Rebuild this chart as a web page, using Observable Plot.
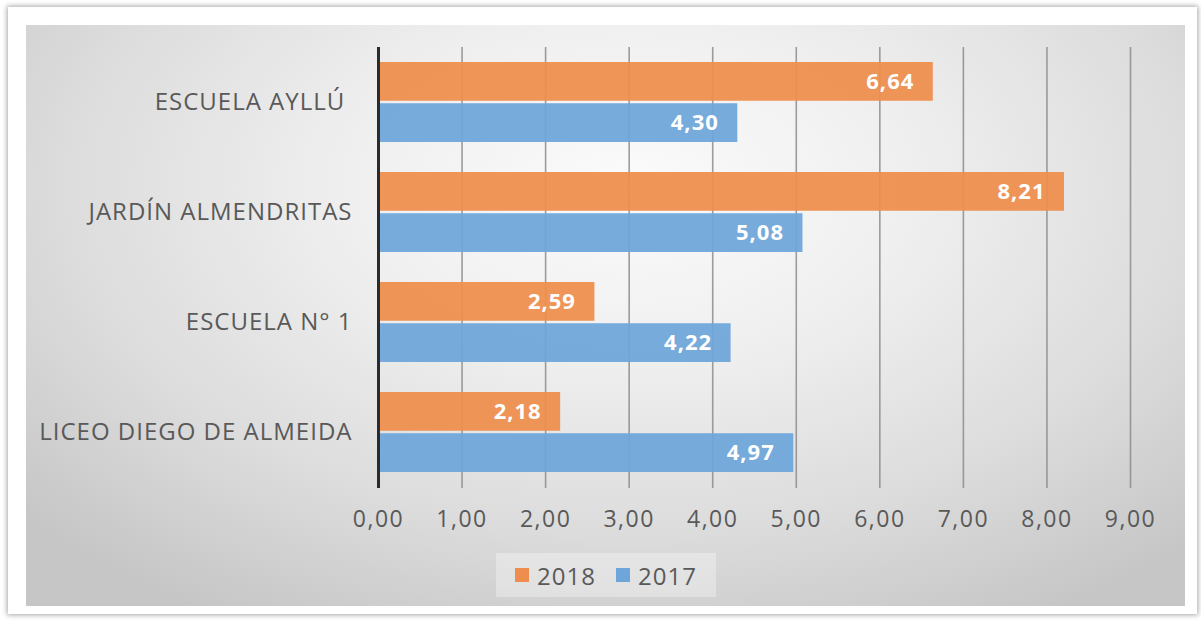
<!DOCTYPE html>
<html>
<head>
<meta charset="utf-8">
<script src="https://cdn.jsdelivr.net/npm/d3@7"></script>
<script src="https://cdn.jsdelivr.net/npm/@observablehq/plot@0.6"></script>
<style>
  html, body { margin: 0; padding: 0; background: #fff; width: 1201px; height: 621px; overflow: hidden; }
  #frame { position: absolute; left: 8px; top: 7px; width: 1189px; height: 607px; background: #fff;
           box-shadow: 0 0 5px 1px rgba(0,0,0,0.35); }
  #panel { position: absolute; left: 26px; top: 25px; width: 1159px; height: 581px;
           background: radial-gradient(ellipse 70% 85% at 52% 28%, #fbfbfb 0%, #efefef 35%, #dcdcdc 70%, #c6c6c6 100%); }
  #chart { position: absolute; left: 0; top: 0; }
  #chart svg text { white-space: pre; }
  #chart .ylab text { letter-spacing: 1px; }
  #chart .xlab text { letter-spacing: 1.5px; }
  #chart .vlab text { letter-spacing: 1px; }
  #legend { position: absolute; left: 496px; top: 553px; width: 220px; height: 44px;
            background: rgba(255,255,255,0.32); display: flex; align-items: center; justify-content: center;
            font-family: "Open Sans", sans-serif; font-size: 24px; letter-spacing: 1px; color: #595959; }
  .sw { display: inline-block; width: 14px; height: 14px; margin-right: 8px; }
  .item { display: flex; align-items: center; margin: 0 10px; }
</style>
</head>
<body>
<div id="frame"></div>
<div id="panel"></div>
<div id="chart"></div>
<div id="legend"></div>
<script>
const categories = ["ESCUELA AYLLÚ ", "JARDÍN ALMENDRITAS", "ESCUELA N° 1", "LICEO DIEGO DE ALMEIDA"];
const years = ["2018", "2017"];
const values2018 = [6.64, 8.21, 2.59, 2.18];
const values2017 = [4.30, 5.08, 4.22, 4.97];
const xTicks = [0, 1, 2, 3, 4, 5, 6, 7, 8, 9];
const colors = {"2018": "#ee8e4e", "2017": "#6fa6da"};

const fmt = v => d3.format(".2f")(v).replace(".", ",");

const rows2018 = categories.map((c, i) => ({cat: c, year: "2018", value: values2018[i]}));
const rows2017 = categories.map((c, i) => ({cat: c, year: "2017", value: values2017[i]}));

const W = 1201, H = 545;
const mTop = 47, mBottom = 57, mLeft = 378, mRight = 71;
const padIn = 0.27;
const step = (H - mTop - mBottom) / categories.length;
const bw = step * (1 - padIn);
const half = bw / 2;

const chart = Plot.plot({
  width: W,
  height: H,
  marginTop: mTop,
  marginBottom: mBottom,
  marginLeft: mLeft,
  marginRight: mRight,
  style: {background: "transparent", fontFamily: "'Open Sans', sans-serif", color: "#595959"},
  x: {domain: [0, 9], label: null},
  y: {domain: categories, paddingInner: padIn, paddingOuter: padIn / 2, label: null},
  marks: [
    Plot.gridX(xTicks, {stroke: "#8c8c8c", strokeOpacity: 0.85, strokeWidth: 1.6}),
    Plot.barX(rows2018, {x: "value", y: "cat", fill: colors["2018"], fillOpacity: 0.94, insetBottom: half + 1}),
    Plot.barX(rows2017, {x: "value", y: "cat", fill: colors["2017"], fillOpacity: 0.94, insetTop: half + 1}),
    Plot.text(rows2018, {x: "value", y: "cat", text: d => fmt(d.value), textAnchor: "end", dx: -19, dy: -half / 2 - 0.5,
      fill: "white", fontWeight: "bold", fontSize: 22, className: "vlab"}),
    Plot.text(rows2017, {x: "value", y: "cat", text: d => fmt(d.value), textAnchor: "end", dx: -19, dy: half / 2 + 0.5,
      fill: "white", fontWeight: "bold", fontSize: 22, className: "vlab"}),
    Plot.ruleX([0], {stroke: "#2b2b2b", strokeWidth: 3}),
    Plot.axisX(xTicks, {tickFormat: fmt, tickSize: 0, tickPadding: 22, fontSize: 23, fill: "#595959", label: null, className: "xlab"}),
    Plot.axisY({tickSize: 0, tickPadding: 26, fontSize: 24, fill: "#595959", label: null, className: "ylab"})
  ]
});
document.getElementById("chart").appendChild(chart);

const legend = document.getElementById("legend");
years.forEach(y => {
  const item = document.createElement("div");
  item.className = "item";
  const sw = document.createElement("span");
  sw.className = "sw";
  sw.style.background = colors[y];
  const t = document.createElement("span");
  t.textContent = y;
  item.appendChild(sw);
  item.appendChild(t);
  legend.appendChild(item);
});
</script>
</body>
</html>
